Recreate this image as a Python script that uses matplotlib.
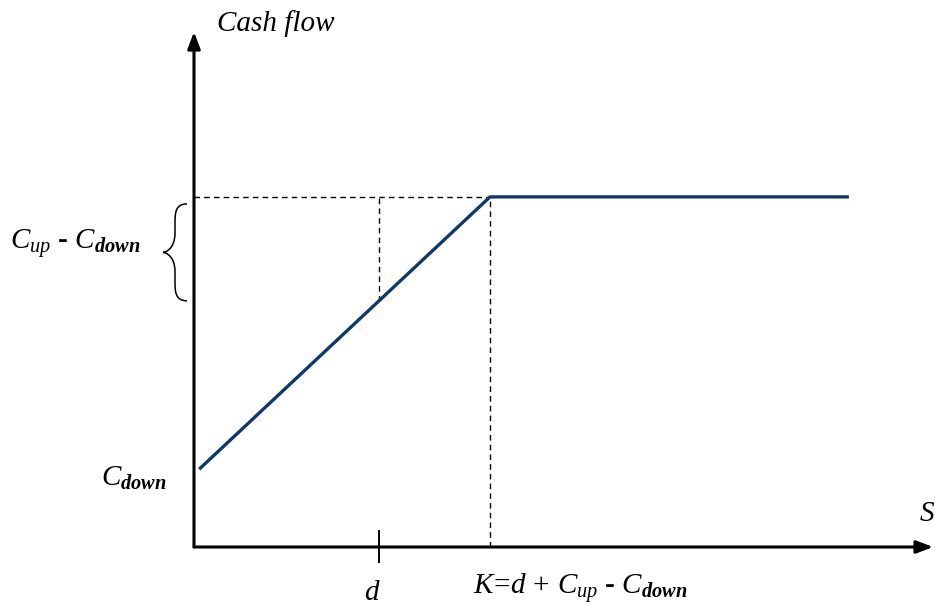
import numpy as np
import matplotlib
matplotlib.use("Agg")
import matplotlib.pyplot as plt
from matplotlib.path import Path
from matplotlib.patches import PathPatch

plt.rcParams["mathtext.fontset"] = "custom"
plt.rcParams["mathtext.rm"] = "Liberation Serif"
plt.rcParams["mathtext.it"] = "Liberation Serif:italic"
plt.rcParams["mathtext.bf"] = "Liberation Serif:italic:bold"

# Payoff profile: cash flow as a function of the underlying S
payoff_s = [0.14, 8.0, 17.7]
payoff_v = [2.0, 9.0, 9.0]
d_level = 5.0
strike_k = 8.0
c_down = 2.0
c_cap = 9.0

line_color = "#0d3a6b"

fig = plt.figure(figsize=(9.35, 6.07), dpi=100)
ax = fig.add_axes([0, 0, 1, 1])
ax.set_xlim(-194 / 37.0, (935 - 194) / 37.0)
ax.set_ylim(-(607 - 547) / 38.9, 547 / 38.9)
ax.axis("off")

x0, x1 = ax.get_xlim()
y0, y1 = ax.get_ylim()

# axes arrows
arrow_kw = dict(arrowstyle="-|>,head_length=1.0,head_width=0.38", color="black",
                lw=2.2, shrinkA=0, shrinkB=0)
ax.annotate("", xy=(0, y1 - 0.82), xytext=(0, 0), arrowprops=arrow_kw)
ax.annotate("", xy=(x1 - 0.05, 0), xytext=(0, 0), arrowprops=arrow_kw)

# payoff line
ax.plot(payoff_s, payoff_v, color=line_color, lw=2.4, solid_capstyle="butt", zorder=3)

# dashed guides
v_at_d = np.interp(d_level, payoff_s, payoff_v)
dash = dict(color="black", lw=1.0, ls=(0, (4, 3)))
ax.plot([0, strike_k], [c_cap, c_cap], **dash)
ax.plot([strike_k, strike_k], [0, c_cap], **dash)
ax.plot([d_level, d_level], [v_at_d, c_cap], **dash)

# tick at d
ax.plot([d_level, d_level], [-0.38, 0.4], color="black", lw=1.4)

# curly brace spanning from value at d to cap
px = 1 / 37.0
xr = -7 * px       # right ends
xm = -19 * px      # shaft
xt = -31 * px      # middle tip
ytop = c_cap - 0.18
ybot = v_at_d
ymid = (ytop + ybot) / 2
r = 0.25
verts = [
    (xr, ytop),
    (xm, ytop), (xm, ytop - r), (xm, ytop - 2 * r),
    (xm, ymid + 2 * r),
    (xm, ymid + r * 0.3), (xt + 2 * px, ymid), (xt, ymid),
    (xt + 2 * px, ymid), (xm, ymid - r * 0.3), (xm, ymid - 2 * r),
    (xm, ybot + 2 * r),
    (xm, ybot + r), (xm, ybot), (xr, ybot),
]
codes = [Path.MOVETO,
         Path.CURVE4, Path.CURVE4, Path.CURVE4,
         Path.LINETO,
         Path.CURVE4, Path.CURVE4, Path.CURVE4,
         Path.CURVE4, Path.CURVE4, Path.CURVE4,
         Path.LINETO,
         Path.CURVE4, Path.CURVE4, Path.CURVE4]
ax.add_patch(PathPatch(Path(verts, codes), fill=False, lw=1.1, color="black"))

serif = "Liberation Serif"
fs = 21

ax.text(0.62, y1 - 0.6, "Cash flow", fontfamily=serif, style="italic",
        fontsize=fs, ha="left", va="center")
ax.text(x1 - 0.02, 0.85, "S", fontfamily=serif, style="italic",
        fontsize=fs, ha="right", va="center")
ax.text(-0.73, c_down - 0.22, r"$C_{\mathbf{down}}$", fontsize=fs,
        ha="right", va="center")
ax.text(-1.45, ymid + 0.22, r"$C_{up}$ - $C_{\mathbf{down}}$", fontfamily=serif,
        weight="bold", fontsize=fs, ha="right", va="center")
ax.text(d_level - 0.18, -1.15, r"$d$", fontsize=fs, ha="center", va="center")
ax.text(strike_k - 0.45, -1.05, r"$K\!=\!d\,+\,C_{up}$ - $C_{\mathbf{down}}$",
        fontfamily=serif, weight="bold", fontsize=fs, ha="left", va="center")

fig.savefig("out.png", dpi=100)
